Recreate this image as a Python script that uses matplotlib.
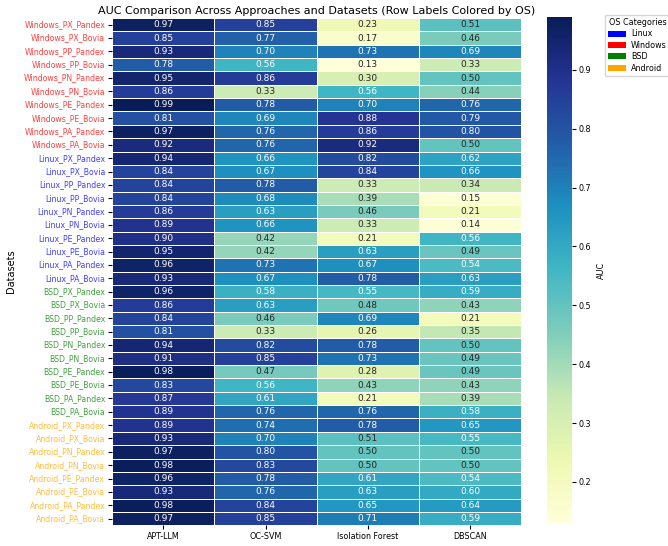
import matplotlib
matplotlib.use("Agg")
import matplotlib.pyplot as plt
from matplotlib.patches import Patch
import numpy as np
import pandas as pd
import seaborn as sns

approaches = ["APT-LLM", "OC-SVM", "Isolation Forest", "DBSCAN"]

datasets = [
    "Windows_PX_Pandex", "Windows_PX_Bovia", "Windows_PP_Pandex", "Windows_PP_Bovia",
    "Windows_PN_Pandex", "Windows_PN_Bovia", "Windows_PE_Pandex", "Windows_PE_Bovia",
    "Windows_PA_Pandex", "Windows_PA_Bovia",
    "Linux_PX_Pandex", "Linux_PX_Bovia", "Linux_PP_Pandex", "Linux_PP_Bovia",
    "Linux_PN_Pandex", "Linux_PN_Bovia", "Linux_PE_Pandex", "Linux_PE_Bovia",
    "Linux_PA_Pandex", "Linux_PA_Bovia",
    "BSD_PX_Pandex", "BSD_PX_Bovia", "BSD_PP_Pandex", "BSD_PP_Bovia",
    "BSD_PN_Pandex", "BSD_PN_Bovia", "BSD_PE_Pandex", "BSD_PE_Bovia",
    "BSD_PA_Pandex", "BSD_PA_Bovia",
    "Android_PX_Pandex", "Android_PX_Bovia", "Android_PN_Pandex", "Android_PN_Bovia",
    "Android_PE_Pandex", "Android_PE_Bovia", "Android_PA_Pandex", "Android_PA_Bovia",
]

apt_llm = [0.97, 0.85, 0.93, 0.78, 0.95, 0.86, 0.99, 0.81, 0.97, 0.92,
           0.94, 0.84, 0.84, 0.84, 0.86, 0.89, 0.90, 0.95, 0.96, 0.93,
           0.96, 0.86, 0.84, 0.81, 0.94, 0.91, 0.98, 0.83, 0.87, 0.89,
           0.89, 0.93, 0.97, 0.98, 0.96, 0.93, 0.98, 0.97]
oc_svm = [0.85, 0.77, 0.70, 0.56, 0.86, 0.33, 0.78, 0.69, 0.76, 0.76,
          0.66, 0.67, 0.78, 0.68, 0.63, 0.66, 0.42, 0.42, 0.73, 0.67,
          0.58, 0.63, 0.46, 0.33, 0.82, 0.85, 0.47, 0.56, 0.61, 0.76,
          0.74, 0.70, 0.80, 0.83, 0.78, 0.76, 0.84, 0.85]
iso_forest = [0.23, 0.17, 0.73, 0.13, 0.30, 0.56, 0.70, 0.88, 0.86, 0.92,
              0.82, 0.84, 0.33, 0.39, 0.46, 0.33, 0.21, 0.63, 0.67, 0.78,
              0.55, 0.48, 0.69, 0.26, 0.78, 0.73, 0.28, 0.43, 0.21, 0.76,
              0.78, 0.51, 0.50, 0.50, 0.61, 0.63, 0.65, 0.71]
dbscan = [0.51, 0.46, 0.69, 0.33, 0.50, 0.44, 0.76, 0.79, 0.80, 0.50,
          0.62, 0.66, 0.34, 0.15, 0.21, 0.14, 0.56, 0.49, 0.54, 0.63,
          0.59, 0.43, 0.21, 0.35, 0.50, 0.49, 0.49, 0.43, 0.39, 0.58,
          0.65, 0.55, 0.50, 0.50, 0.54, 0.60, 0.64, 0.59]

os_names = ["Linux", "Windows", "BSD", "Android"]
os_colors = ["blue", "red", "green", "orange"]

df = pd.DataFrame({approaches[0]: apt_llm, approaches[1]: oc_svm,
                   approaches[2]: iso_forest, approaches[3]: dbscan},
                  index=datasets)

fig = plt.figure(figsize=(6.68, 5.46), dpi=100)
ax = fig.add_axes([0.168, 0.038, 0.612, 0.929])
cax = fig.add_axes([0.819, 0.042, 0.037, 0.927])

sns.heatmap(df, ax=ax, cbar_ax=cax, cmap="YlGnBu", annot=True, fmt=".2f",
            linewidths=0.5, linecolor="white",
            xticklabels=True, yticklabels=True,
            annot_kws={"fontsize": 6.5},
            cbar_kws={"label": "AUC"})

ax.set_title("AUC Comparison Across Approaches and Datasets (Row Labels Colored by OS)",
             fontsize=8, pad=3)
ax.set_xlabel("Approaches", fontsize=7, labelpad=4)
ax.set_ylabel("Datasets", fontsize=7, labelpad=6)
ax.tick_params(axis="x", labelsize=5.8, length=3, pad=2)
ax.tick_params(axis="y", labelsize=5.6, length=3, pad=2, rotation=0)

color_of = dict(zip(os_names, os_colors))
for lbl in ax.get_yticklabels():
    lbl.set_color(color_of[lbl.get_text().split("_")[0]])
    lbl.set_alpha(0.75)

cax.tick_params(labelsize=5.8, length=3, pad=2)
cax.yaxis.label.set_size(5.8)
cax.yaxis.labelpad = 4

handles = [Patch(facecolor=c, label=n) for n, c in zip(os_names, os_colors)]
fig.legend(handles=handles, title="OS Categories", loc="upper left",
           bbox_to_anchor=(0.905, 0.973), fontsize=5.8, title_fontsize=5.8,
           handlelength=2.3, handleheight=0.8, borderpad=0.4, labelspacing=0.3,
           handletextpad=0.6, borderaxespad=0)

fig.savefig("out.png", dpi=100)
